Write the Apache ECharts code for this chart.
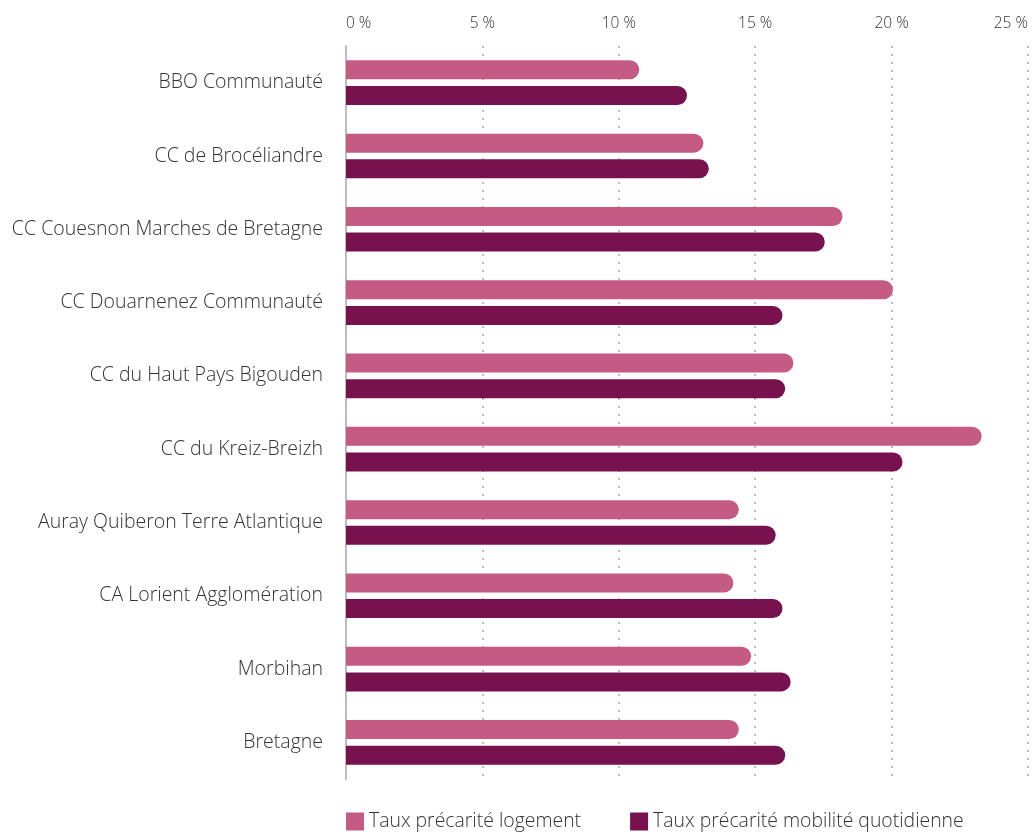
<!DOCTYPE html>
<html><head><meta charset="utf-8">
<script src="https://cdn.jsdelivr.net/npm/echarts@6/dist/echarts.min.js"></script>
<style>html,body{margin:0;padding:0;background:#fff}#c{width:1035px;height:834px}</style>
</head><body><div id="c"></div>
<script>
const categories = ["BBO Communauté","CC de Brocéliandre","CC Couesnon Marches de Bretagne","CC Douarnenez Communauté","CC du Haut Pays Bigouden","CC du Kreiz-Breizh","Auray Quiberon Terre Atlantique","CA Lorient Agglomération","Morbihan","Bretagne"];
const logement = [10.75, 13.1, 18.2, 20.05, 16.4, 23.3, 14.4, 14.2, 14.85, 14.4];
const mobilite = [12.5, 13.3, 17.55, 16.0, 16.1, 20.4, 15.75, 16.0, 16.3, 16.1];
const seriesNames = ["Taux précarité logement","Taux précarité mobilité quotidienne"];
const xTicks = [0,5,10,15,20,25];

const FONT = '"Open Sans"';
const chart = echarts.init(document.getElementById('c'));
chart.setOption({
  animation:false,
  textStyle:{fontFamily:FONT},
  grid:{left:346,right:7,top:46,bottom:55,containLabel:false,outerBoundsMode:'none'},
  legend:{
    bottom:-2,left:341,itemWidth:18,itemHeight:18,itemGap:49,icon:'rect',
    textStyle:{fontFamily:FONT,fontWeight:300,fontSize:19.4,color:'#333'},
    data:seriesNames
  },
  xAxis:{
    type:'value',position:'top',min:xTicks[0],max:xTicks[xTicks.length-1],interval:5,
    axisLine:{show:false},axisTick:{show:false},
    axisLabel:{formatter:v=>v+' %',fontFamily:FONT,fontWeight:300,fontSize:15.5,color:'#333',margin:14,
      alignMinLabel:'left',alignMaxLabel:'right'},
    splitLine:{show:true,lineStyle:{color:'#bdbdbd',width:2,type:[2,6]}}
  },
  yAxis:{
    type:'category',inverse:true,data:categories,
    axisLine:{show:true,lineStyle:{color:'#bdbdbd',width:2}},
    axisTick:{show:false},
    axisLabel:{fontFamily:FONT,fontWeight:300,fontSize:19.5,color:'#333',margin:23}
  },
  series:[
    {name:seriesNames[0],type:'bar',data:logement,barWidth:19,barGap:'35%',itemStyle:{color:'#c55a85',borderRadius:[0,10,10,0]}},
    {name:seriesNames[1],type:'bar',data:mobilite,barWidth:19,itemStyle:{color:'#77124f',borderRadius:[0,10,10,0]}}
  ]
});
</script></body></html>
